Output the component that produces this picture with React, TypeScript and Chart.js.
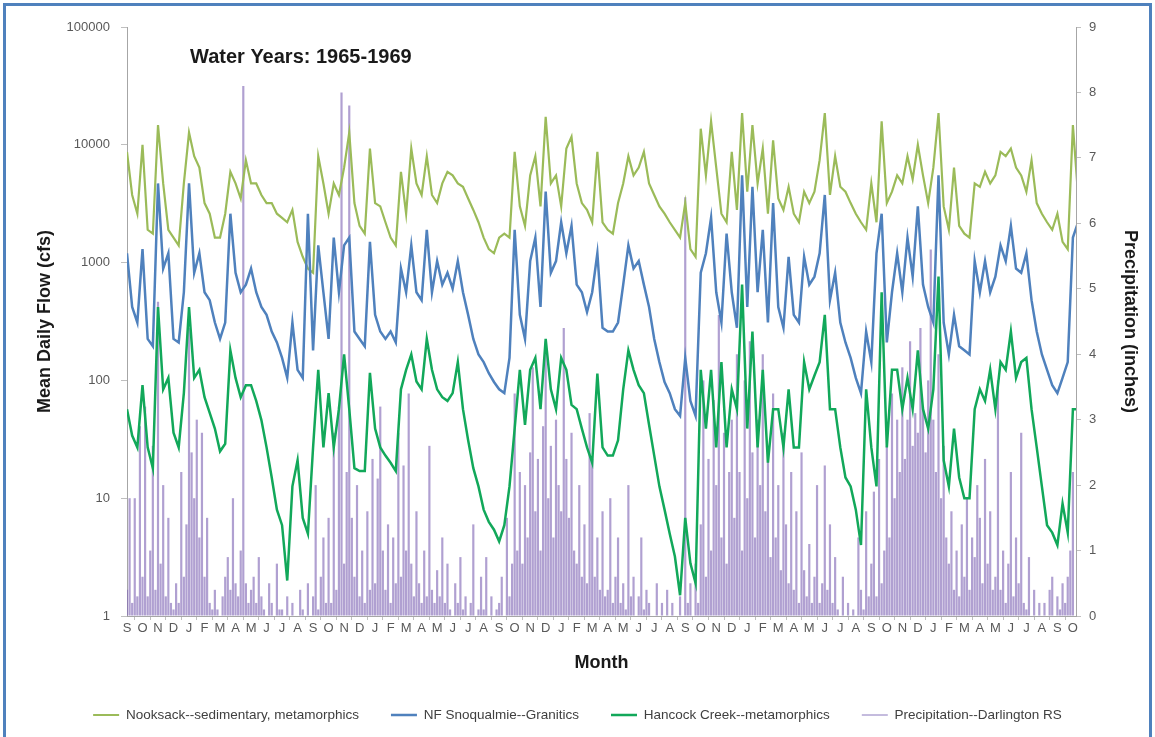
import { useEffect, useRef } from "react";
import { Chart, registerables } from "chart.js";

Chart.register(...registerables);

// Month letters starting at September 1964 (x = month index, 0 = Sep 1964)
const MONTH_LABELS = ["S", "O", "N", "D", "J", "F", "M", "A", "M", "J", "J", "A"];
const FLOW_TICKS = [1, 10, 100, 1000, 10000, 100000];
const X_MAX = 61.2;

// Flows, cfs: three readings per month (about every 10 days), from Sep 1964
const NOOKSACK = [
  8700, 3750, 2600, 10000, 1900, 1760, 14700, 4700, 1900,
  1630, 1400, 4700, 12700, 8000, 6400, 3200, 2600, 1630,
  1630, 2600, 5900, 4700, 3500, 7400, 4700, 4700, 3750,
  3200, 3200, 2600, 2400, 2200, 2800, 1500, 1120, 890,
  820, 8000, 4700, 2600, 4700, 3750, 6400, 12700, 3200,
  2050, 1760, 9300, 3200, 3000, 2200, 1630, 1400, 5900,
  2600, 9300, 4700, 3750, 8000, 3750, 3200, 4700, 5900,
  5500, 4700, 4400, 3500, 2800, 2200, 1630, 1300, 1200,
  1630, 1760, 1630, 8700, 3000, 2050, 5500, 8000, 3000,
  17300, 4700, 5500, 3000, 9300, 11700, 4700, 3200, 2800,
  2200, 8700, 2200, 1900, 1760, 3200, 4700, 8000, 5500,
  6400, 8700, 4700, 3750, 3000, 2600, 2200, 1900, 1630,
  3200, 1300, 1120, 13700, 5500, 15800, 6400, 2600, 2200,
  8700, 2800, 18600, 4000, 14700, 4700, 9300, 2600, 10900,
  3500, 2800, 4400, 2600, 2200, 4000, 3200, 4000, 7400,
  18600, 3750, 8000, 4400, 4000, 3200, 2600, 2200, 1900,
  4700, 2200, 15800, 3200, 4000, 5500, 4700, 8000, 5100,
  10000, 5500, 3200, 6400, 18600, 3000, 1900, 6400, 2050,
  1760, 1630, 4700, 4400, 5900, 4700, 5500, 8700, 8000,
  9300, 6400, 5500, 4000, 7400, 3200, 2600, 2200, 1900,
  2600, 1500, 1300, 14700, 3750,
];

const SNOQUALMIE = [
  1200, 420, 310, 1300, 225, 195, 4700, 890, 1200,
  225, 210, 560, 4700, 820, 1200, 560, 480, 310,
  225, 310, 2600, 820, 560, 650, 890, 560, 420,
  360, 260, 210, 155, 105, 310, 123, 105, 2600,
  180, 1400, 560, 225, 1630, 560, 1400, 1630, 260,
  225, 195, 1500, 360, 260, 225, 260, 210, 890,
  560, 1400, 560, 480, 1900, 560, 1030, 650, 820,
  600, 1030, 560, 360, 225, 166, 143, 115, 97,
  84, 78, 155, 1900, 360, 225, 1030, 1630, 420,
  4000, 820, 1030, 2200, 1200, 2050, 650, 560, 380,
  560, 1200, 280, 260, 260, 310, 650, 1400, 890,
  1030, 650, 420, 225, 143, 97, 78, 57, 50,
  155, 67, 50, 820, 1200, 2400, 560, 310, 1760,
  560, 280, 5500, 420, 4400, 560, 1900, 310, 3200,
  420, 280, 1120, 360, 310, 1120, 650, 760, 1200,
  3750, 480, 820, 310, 210, 155, 105, 78, 260,
  143, 1200, 2600, 210, 560, 1200, 560, 1630, 760,
  3000, 650, 420, 310, 5500, 310, 166, 360, 195,
  180, 166, 1030, 560, 1030, 560, 760, 1400, 1030,
  2050, 890, 820, 1200, 480, 260, 166, 123, 91,
  78, 105, 143, 1630, 2200,
];

const HANCOCK = [
  57, 34, 27, 91, 27, 18, 420, 84, 105,
  36, 27, 78, 420, 105, 123, 72, 53, 39,
  25, 29, 180, 105, 72, 91, 91, 67, 46,
  27, 15, 8, 5.9, 2.0, 12.6, 21, 6.8, 5,
  27, 123, 27, 78, 27, 57, 166, 57, 18,
  17, 17, 116, 39, 27, 23, 20, 17, 84,
  123, 166, 98, 84, 225, 123, 84, 72, 67,
  78, 143, 57, 31, 18, 12.6, 8, 6.3, 5.4,
  4.3, 5.9, 12.6, 39, 123, 42, 123, 155, 57,
  225, 84, 57, 155, 123, 62, 57, 39, 27,
  20, 114, 27, 23, 23, 31, 84, 180, 123,
  91, 78, 42, 23, 12.6, 8, 5, 3.2, 1.5,
  6.8, 2.8, 1.9, 123, 39, 123, 27, 143, 27,
  84, 57, 650, 39, 260, 27, 123, 20, 57,
  57, 27, 84, 27, 27, 143, 84, 110, 143,
  360, 57, 57, 27, 15, 12.6, 8, 4, 84,
  27, 12.6, 560, 27, 123, 123, 57, 105, 57,
  180, 57, 39, 84, 760, 21, 12.6, 39, 15,
  10, 10, 57, 84, 67, 123, 57, 143, 123,
  260, 105, 143, 155, 57, 27, 12.6, 5.9, 5.1,
  4, 9, 5.1, 57, 57,
];

// Precipitation, inches: six readings per month (about every 5 days), from Sep 1964
const PRECIP = [
  0.4, 1.8, 0.2, 1.8, 0.3, 2.9,
  0.6, 3.2, 0.3, 1.0, 2.6, 0.4,
  4.8, 0.8, 2.0, 0.3, 1.5, 0.2,
  0.1, 0.5, 0.2, 2.2, 0.6, 1.4,
  4.4, 2.5, 1.8, 3.0, 1.2, 2.8,
  0.6, 1.5, 0.2, 0.1, 0.4, 0.1,
  0.0, 0.3, 0.6, 0.9, 0.4, 1.8,
  0.5, 0.3, 1.0, 8.1, 0.5, 0.2,
  0.4, 0.6, 0.2, 0.9, 0.3, 0.1,
  0.0, 0.5, 0.2, 0.0, 0.8, 0.1,
  0.1, 0.0, 0.3, 0.0, 0.2, 0.0,
  0.0, 0.4, 0.1, 0.0, 0.5, 0.0,
  0.3, 2.0, 0.1, 0.6, 1.2, 0.2,
  1.5, 0.2, 2.8, 0.4, 3.2, 8.0,
  0.8, 2.2, 7.8, 1.5, 0.6, 2.0,
  0.3, 1.0, 0.2, 1.6, 0.4, 2.4,
  0.5, 2.1, 3.2, 1.0, 0.4, 1.4,
  0.2, 1.2, 0.5, 2.8, 0.6, 2.3,
  1.0, 3.4, 0.8, 0.3, 1.6, 0.5,
  0.2, 1.0, 0.3, 2.6, 0.4, 0.2,
  0.7, 0.3, 1.2, 0.2, 0.8, 0.1,
  0.0, 0.5, 0.2, 0.9, 0.1, 0.3,
  0.0, 0.2, 1.4, 0.0, 0.1, 0.6,
  0.1, 0.9, 0.0, 0.3, 0.0, 0.1,
  0.2, 0.6, 0.0, 1.5, 0.3, 0.8,
  3.4, 1.0, 2.2, 0.8, 2.0, 1.2,
  2.5, 3.8, 1.6, 2.4, 1.0, 2.9,
  4.2, 1.8, 2.6, 1.2, 3.0, 2.0,
  1.6, 4.4, 2.4, 1.5, 2.8, 1.0,
  0.8, 2.0, 0.6, 1.4, 0.5, 3.1,
  2.4, 0.6, 1.2, 0.4, 1.6, 0.3,
  0.4, 1.8, 0.2, 0.6, 1.2, 0.2,
  0.5, 0.1, 2.0, 0.3, 0.6, 0.0,
  0.3, 1.2, 0.1, 0.4, 0.2, 0.0,
  0.0, 0.5, 0.0, 0.2, 0.0, 0.4,
  0.0, 0.2, 0.0, 0.0, 0.3, 0.0,
  6.4, 0.2, 0.5, 0.0, 0.8, 0.2,
  1.4, 3.6, 0.6, 2.4, 1.0, 3.3,
  2.0, 4.6, 1.2, 2.8, 0.8, 2.2,
  3.0, 1.5, 4.0, 2.2, 1.0, 3.6,
  1.8, 4.2, 2.5, 1.2, 3.0, 2.0,
  4.0, 1.6, 2.6, 0.9, 3.4, 1.2,
  2.0, 0.7, 2.8, 1.4, 0.5, 2.2,
  0.4, 1.6, 0.2, 2.5, 0.7, 0.3,
  1.1, 0.2, 0.6, 2.0, 0.2, 0.5,
  2.3, 0.4, 1.4, 0.2, 0.9, 0.1,
  0.0, 0.6, 0.0, 0.2, 0.0, 0.1,
  0.0, 1.2, 0.4, 0.1, 1.6, 0.3,
  0.8, 1.9, 0.3, 2.4, 0.5, 1.0,
  2.6, 1.2, 3.4, 1.8, 3.0, 2.2,
  3.8, 2.4, 3.0, 4.2, 2.6, 3.1,
  2.8, 4.4, 3.2, 2.5, 3.6, 5.6,
  3.0, 2.2, 4.0, 1.8, 2.6, 1.2,
  0.8, 1.6, 0.4, 1.0, 0.3, 1.4,
  0.6, 1.8, 0.4, 1.2, 0.9, 2.0,
  1.5, 0.5, 2.4, 0.8, 1.6, 0.4,
  0.6, 3.6, 0.4, 1.0, 0.2, 0.8,
  2.2, 0.3, 1.2, 0.5, 2.8, 0.2,
  0.1, 0.9, 0.0, 0.4, 0.0, 0.2,
  0.0, 0.2, 0.0, 0.4, 0.6, 0.0,
  0.3, 0.1, 0.5, 0.2, 0.6, 1.0,
  2.2,
];

const FLOW_STEP = 1 / 3; // months between flow readings
const PRECIP_STEP = 1 / 6; // months between precipitation readings

const FONT = '"Liberation Sans", Arial, sans-serif';

export default function App() {
  const ref = useRef<HTMLCanvasElement>(null);

  useEffect(() => {
    const canvas = ref.current;
    if (!canvas) return;
    const toPts = (arr: number[], step: number) => arr.map((v, i) => ({ x: i * step, y: v }));

    const innerTitle = {
      id: "innerTitle",
      afterDatasetsDraw(chart: any) {
        const { ctx, chartArea } = chart;
        ctx.save();
        ctx.font = `bold 20px ${FONT}`;
        ctx.fillStyle = "#1a1a1a";
        ctx.textBaseline = "middle";
        ctx.textAlign = "left";
        ctx.fillText("Water Years: 1965-1969", chartArea.left + 63, chartArea.top + 30);
        ctx.restore();
      },
    };

    const chart = new Chart(canvas, {
      type: "line",
      data: {
        datasets: [
          {
            label: "Nooksack--sedimentary, metamorphics",
            data: toPts(NOOKSACK, FLOW_STEP),
            borderColor: "#9bbb59",
            borderWidth: 2.2,
            pointRadius: 0,
            tension: 0,
            yAxisID: "y",
            order: 2,
            legendColor: "#9bbb59",
            legendWidth: 2,
          } as any,
          {
            label: "NF Snoqualmie--Granitics",
            data: toPts(SNOQUALMIE, FLOW_STEP),
            borderColor: "#4f81bd",
            borderWidth: 2.5,
            pointRadius: 0,
            tension: 0,
            yAxisID: "y",
            order: 1,
            legendColor: "#4f81bd",
            legendWidth: 2.5,
          } as any,
          {
            label: "Hancock Creek--metamorphics",
            data: toPts(HANCOCK, FLOW_STEP),
            borderColor: "#12a85a",
            borderWidth: 2.5,
            pointRadius: 0,
            tension: 0,
            yAxisID: "y",
            order: 0,
            legendColor: "#12a85a",
            legendWidth: 2.5,
          } as any,
          {
            type: "bar",
            label: "Precipitation--Darlington RS",
            data: toPts(PRECIP, PRECIP_STEP),
            backgroundColor: "rgba(128,102,180,0.62)",
            borderWidth: 0,
            barPercentage: 0.85,
            categoryPercentage: 1,
            yAxisID: "y1",
            order: 3,
            legendColor: "#8a78bd",
            legendWidth: 1,
          } as any,
        ],
      },
      options: {
        responsive: false,
        maintainAspectRatio: false,
        animation: false,
        devicePixelRatio: 1,
        events: [],
        layout: { padding: { top: 27, bottom: 5.25, left: 0, right: 0 } },
        plugins: {
          tooltip: { enabled: false },
          legend: {
            position: "bottom",
            align: "center",
            sort: (a: any, b: any) => a.datasetIndex - b.datasetIndex,
            labels: {
              usePointStyle: true,
              pointStyleWidth: 26,
              padding: 32,
              color: "#404040",
              font: { family: FONT, size: 13.5 },
              generateLabels: (ch: any) =>
                ch.data.datasets.map((ds: any, i: number) => ({
                  text: ds.label,
                  fillStyle: ds.legendColor,
                  strokeStyle: ds.legendColor,
                  lineWidth: ds.legendWidth,
                  pointStyle: "line",
                  hidden: false,
                  datasetIndex: i,
                  fontColor: "#404040",
                })),
            },
          },
        },
        scales: {
          x: {
            type: "linear",
            min: 0,
            max: X_MAX,
            offset: false,
            afterFit: (s: any) => {
              s.height = 60.25;
            },
            ticks: {
              stepSize: 1,
              autoSkip: false,
              maxRotation: 0,
              includeBounds: false,
              padding: 1,
              color: "#595959",
              font: { family: FONT, size: 13 },
              callback: (v: any) => (Number.isInteger(v) ? MONTH_LABELS[v % 12] : ""),
            },
            grid: { drawOnChartArea: false, drawTicks: true, tickLength: 4, color: "#bfbfbf" },
            border: { color: "#a6a6a6" },
            title: {
              display: true,
              text: "Month",
              color: "#1a1a1a",
              font: { family: FONT, size: 18, weight: "bold" },
              padding: { top: 0, bottom: 2.5 },
            },
          },
          y: {
            type: "logarithmic",
            position: "left",
            min: 1,
            max: 100000,
            afterBuildTicks: (s: any) => {
              s.ticks = FLOW_TICKS.map((v) => ({ value: v }));
            },
            afterFit: (s: any) => {
              s.width = 127;
            },
            ticks: {
              color: "#595959",
              padding: 11,
              font: { family: FONT, size: 13 },
              callback: (v: any) => String(v),
            },
            grid: { drawOnChartArea: false, drawTicks: true, tickLength: 6, color: "#bfbfbf" },
            border: { color: "#a6a6a6" },
            title: {
              display: true,
              text: "Mean Daily Flow (cfs)",
              color: "#1a1a1a",
              font: { family: FONT, size: 18, weight: "bold" },
              padding: { top: 34, bottom: 0 },
            },
          },
          y1: {
            type: "linear",
            position: "right",
            min: 0,
            max: 9,
            afterFit: (s: any) => {
              s.width = 79;
            },
            ticks: {
              stepSize: 1,
              color: "#595959",
              padding: 8,
              font: { family: FONT, size: 13 },
            },
            grid: { drawOnChartArea: false, drawTicks: true, tickLength: 5, color: "#bfbfbf" },
            border: { color: "#a6a6a6" },
            title: {
              display: true,
              text: "Precipitation (inches)",
              color: "#1a1a1a",
              font: { family: FONT, size: 18, weight: "bold" },
              padding: { top: 14, bottom: 0 },
            },
          },
        },
      } as any,
      plugins: [innerTitle],
    });

    return () => chart.destroy();
  }, []);

  return (
    <div
      style={{
        position: "fixed",
        left: 0,
        top: 0,
        width: 1155,
        height: 737,
        overflow: "hidden",
        background: "#ffffff",
      }}
    >
      <div
        style={{
          position: "absolute",
          left: 3,
          top: 3,
          width: 1149,
          height: 800,
          border: "3px solid #4f81bd",
          boxSizing: "border-box",
        }}
      />
      <canvas
        ref={ref}
        width={1155}
        height={737}
        style={{ position: "absolute", left: 0, top: 0, width: 1155, height: 737 }}
      />
    </div>
  );
}
